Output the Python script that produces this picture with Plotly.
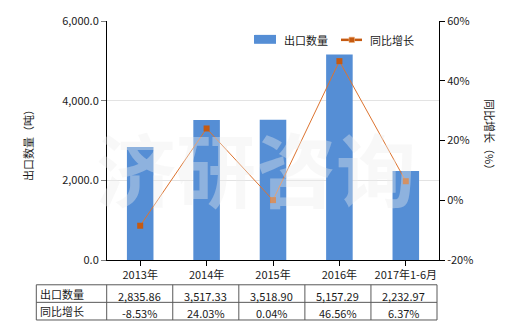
import plotly.graph_objects as go

categories = ["2013年", "2014年", "2015年", "2016年", "2017年1-6月"]
export_qty = [2835.86, 3517.33, 3518.90, 5157.29, 2232.97]
yoy_growth = [-8.53, 24.03, 0.04, 46.56, 6.37]
qty_labels = ["2,835.86", "3,517.33", "3,518.90", "5,157.29", "2,232.97"]
growth_labels = ["-8.53%", "24.03%", "0.04%", "46.56%", "6.37%"]
row_names = ["出口数量", "同比增长"]
left_ticks = [0, 2000, 4000, 6000]
right_ticks = [-20, 0, 20, 40, 60]
right_tick_text = ["-20%", "0%", "20%", "40%", "60%"]

FONT = "Noto Sans CJK SC"
TXT = "#1a1a1a"
BAR_C = "#558ED5"
LINE_C = "#DD7430"
MARK_C = "#C55A11"
W, H = 520, 330
ML, MR, MT, MB = 107, 81, 19, 70
PW, PH = W - ML - MR, H - MT - MB


def px(x):
    return (x - ML) / PW


def py(y):
    return (H - MB - y) / PH


fig = go.Figure()
fig.add_trace(go.Bar(
    x=categories, y=export_qty, name="出口数量",
    marker=dict(color=BAR_C, line=dict(width=0)), width=0.4, yaxis="y",
))
fig.add_trace(go.Scatter(
    x=categories, y=yoy_growth, name="同比增长", yaxis="y2",
    mode="lines+markers",
    line=dict(color=LINE_C, width=1),
    marker=dict(symbol="square", size=6, color=MARK_C),
))

annotations = []
shapes = []

# watermark
annotations.append(dict(text="济研咨询", x=px(256), y=py(165), xref="paper", yref="paper",
                        xanchor="center", yanchor="middle",
                        showarrow=False, font=dict(family=FONT, size=80, color="rgba(237,237,237,0.38)", weight="bold")))

# axis titles
annotations.append(dict(text="出口数量（吨）", x=px(28), y=py(142), xref="paper", yref="paper",
                        xanchor="center", yanchor="middle",
                        textangle=-90, showarrow=False, font=dict(family=FONT, size=11, color=TXT)))
annotations.append(dict(text="同比增长（%）", x=px(490), y=py(136), xref="paper", yref="paper",
                        xanchor="center", yanchor="middle",
                        textangle=90, showarrow=False, font=dict(family=FONT, size=11, color=TXT)))

# legend (drawn manually to match reference icon shapes)
shapes.append(dict(type="rect", xref="paper", yref="paper", x0=px(254), x1=px(276), y0=py(33), y1=py(42),
                   fillcolor=BAR_C, line=dict(width=0)))
shapes.append(dict(type="line", xref="paper", yref="paper", x0=px(341), x1=px(362), y0=py(38), y1=py(38),
                   line=dict(color=MARK_C, width=2.5)))
shapes.append(dict(type="rect", xref="paper", yref="paper", x0=px(349), x1=px(354.5), y0=py(35.3), y1=py(40.7),
                   fillcolor=MARK_C, line=dict(color="#F2B27A", width=0.6)))
annotations.append(dict(text="出口数量", x=px(282), y=py(38), xref="paper", yref="paper",
                        xanchor="left", yanchor="middle", showarrow=False,
                        font=dict(family=FONT, size=11, color=TXT)))
annotations.append(dict(text="同比增长", x=px(368), y=py(38), xref="paper", yref="paper",
                        xanchor="left", yanchor="middle", showarrow=False,
                        font=dict(family=FONT, size=11, color=TXT)))

# table
t_top, t_mid, t_bot = py(285), py(302.7), py(320.5)
t_left = px(36.3)
lc = dict(color="#595959", width=1)
for yy in (t_top, t_mid, t_bot):
    shapes.append(dict(type="line", xref="paper", yref="paper", x0=t_left, x1=px(437), y0=yy, y1=yy, line=lc))
shapes.append(dict(type="line", xref="paper", yref="paper", x0=t_left, x1=t_left, y0=t_top, y1=t_bot, line=lc))
col_w = (px(437) - px(106.7)) / len(categories)
for i in range(len(categories) + 1):
    xx = px(106.7) + i * col_w
    shapes.append(dict(type="line", xref="paper", yref="paper", x0=xx, x1=xx, y0=t_top, y1=t_bot, line=lc))

for r, name in enumerate(row_names):
    annotations.append(dict(text=name, x=px(37.5), y=py(294 + 17.5 * r), xref="paper", yref="paper",
                            xanchor="left", yanchor="middle",
                            showarrow=False, font=dict(family=FONT, size=11, color=TXT)))
for i in range(len(categories)):
    xc = px(106.7) + (i + 0.5) * col_w
    for r, lab in enumerate((qty_labels[i], growth_labels[i])):
        annotations.append(dict(text=lab, x=xc, y=py(296 + 17.5 * r), xref="paper", yref="paper",
                                xanchor="center", yanchor="middle",
                                showarrow=False, font=dict(family=FONT, size=11, color=TXT)))

fig.update_layout(
    width=W, height=H,
    margin=dict(l=ML, r=MR, t=MT, b=MB, pad=0),
    paper_bgcolor="white", plot_bgcolor="white",
    font=dict(family=FONT, size=11, color=TXT),
    showlegend=False,
    bargap=0.6,
    xaxis=dict(type="category", range=[-0.5, 4.5], showline=True, linecolor="black", linewidth=1,
               ticks="outside", ticklen=5, tickcolor="black", showgrid=False,
               tickfont=dict(family=FONT, size=11, color=TXT)),
    yaxis=dict(range=[0, 6000], tickvals=left_ticks, tickformat=",.1f", showline=True,
               linecolor="black", linewidth=1, ticks="outside", ticklen=5, tickcolor="#7f7f7f",
               showgrid=True, gridcolor="#e3e3e3", gridwidth=1, zeroline=False,
               tickfont=dict(family=FONT, size=11, color=TXT)),
    yaxis2=dict(range=[-20, 60], tickmode="array", tickvals=right_ticks, ticktext=right_tick_text,
                overlaying="y", side="right",
                showline=True, linecolor="black", linewidth=1, ticks="outside", ticklen=5,
                tickcolor="black", showgrid=False, zeroline=False,
                tickfont=dict(family=FONT, size=11, color=TXT)),
    annotations=annotations,
    shapes=shapes,
)

fig.write_html("out.html")
